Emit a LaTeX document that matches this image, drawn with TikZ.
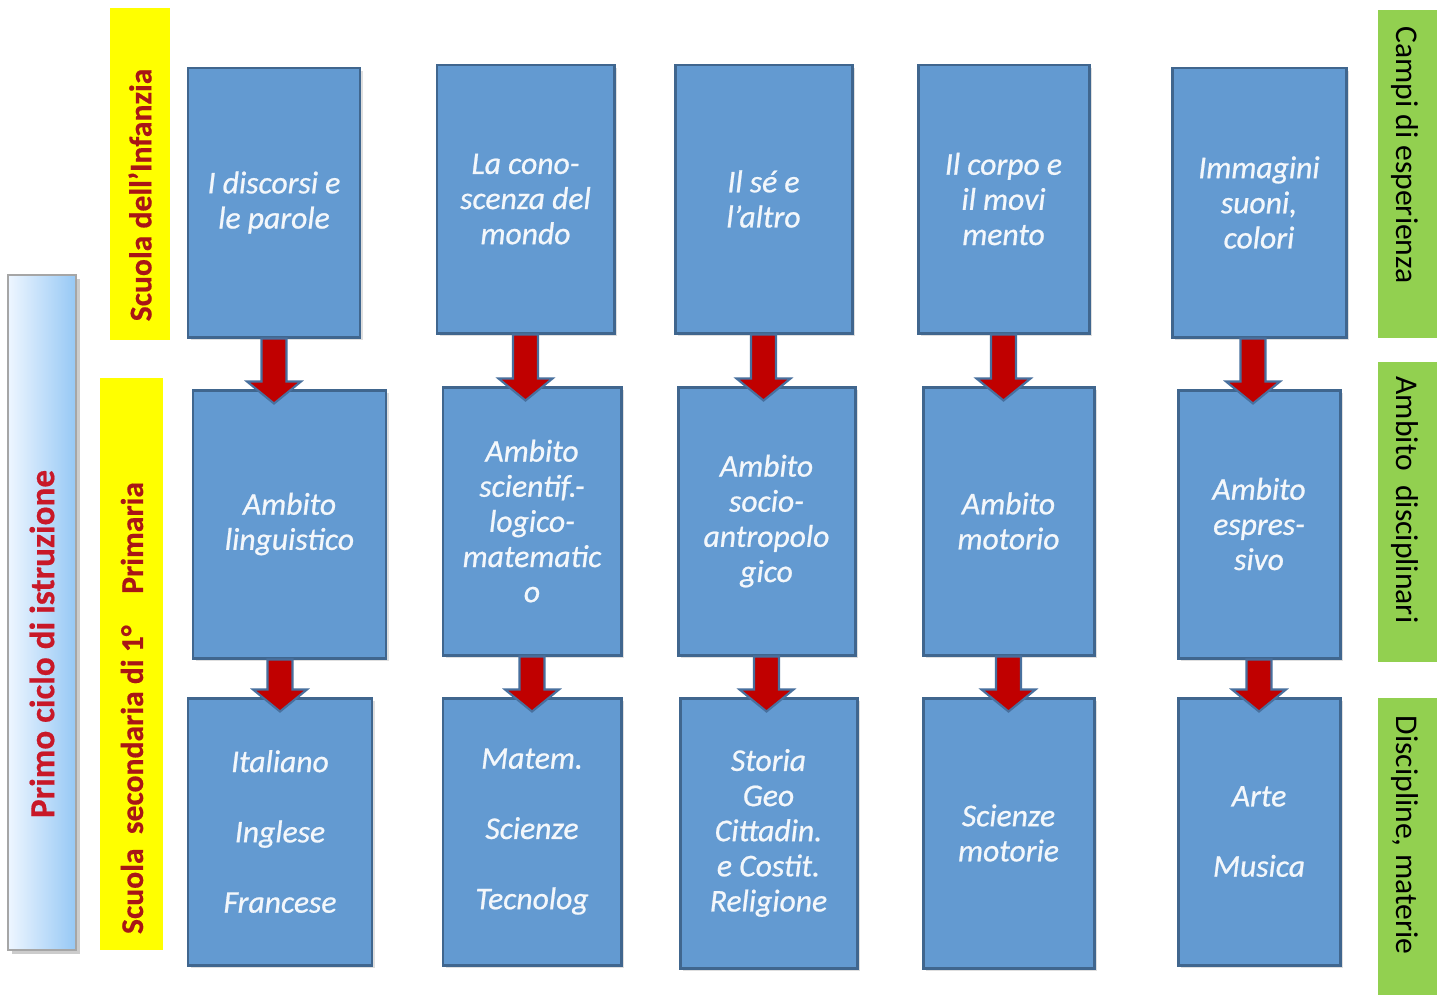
\documentclass[tikz,border=0pt]{standalone}
\usepackage{fontspec}
\setmainfont{Carlito}
\newfontfamily\boxfont[FakeBold=0.7]{Carlito}
\newfontfamily\labelfont[FakeBold=0.5]{Carlito}
\usepackage{xcolor}
\definecolor{boxblue}{RGB}{99,154,209}
\definecolor{boxedge}{RGB}{64,102,142}
\definecolor{arrowred}{RGB}{192,0,0}
\definecolor{arrowedge}{RGB}{72,112,158}
\definecolor{labelyellow}{RGB}{255,255,0}
\definecolor{labelgreen}{RGB}{146,208,80}
\definecolor{darkred}{RGB}{168,22,22}
\definecolor{cyclered}{RGB}{200,24,40}
\definecolor{cyclelight}{RGB}{238,246,255}
\definecolor{cycleblue}{RGB}{150,200,245}
\usepackage{tikz}
\usetikzlibrary{
    calc,
    shadows
}

\begin{document}
\begin{tikzpicture}[
    x=0.02cm, y=-0.02cm,
    every text node part/.style={align=center},
    boxsize/.style 2 args={minimum width=#1*0.02cm, minimum height=#2*0.02cm},
    ambito/.style={draw=boxedge, line width=1.7pt, fill=boxblue, inner sep=0pt,
        drop shadow={shadow xshift=1.5pt, shadow yshift=-1.5pt, opacity=0.25},
        text=white!92!boxblue, font=\boxfont\fontsize{18}{20}\selectfont\itshape},
    schoolbar/.style={fill=labelyellow, inner sep=0pt},
    schooltext/.style={rotate=90, text=darkred, font=\labelfont\fontsize{18}{20}\selectfont\bfseries},
    fieldbar/.style={fill=labelgreen, inner sep=0pt},
    fieldtext/.style={rotate=-90, text=black, font=\fontsize{18}{20}\selectfont},
    cyclebar/.style={draw=gray!70, line width=1pt, left color=cyclelight, right color=cycleblue,
        drop shadow={shadow xshift=2pt, shadow yshift=-2pt, opacity=0.4}},
    flow/.style={fill=arrowred, draw=arrowedge, line width=1.2pt, line join=miter,
        to path={let \p1=(\tikztostart), \p2=(\tikztotarget) in
            (\x1-0.25cm,\y1) -- (\x1-0.25cm,\y2+0.14cm) -- (\x1-0.54cm,\y2+0.14cm)
            -- (\x1,\y2-0.3cm) -- (\x1+0.54cm,\y2+0.14cm) -- (\x1+0.25cm,\y2+0.14cm)
            -- (\x1+0.25cm,\y1) -- cycle}}
]
\fill[white] (0,0) rectangle (1437,1005);
\useasboundingbox (0,0) rectangle (1437,1005);

% ==================== SIDE LABELS ====================
\node[cyclebar, boxsize={68}{675}] (cycle_bar) at (42,612.5) {};
\node[rotate=90, text=cyclered, font=\labelfont\fontsize{20}{22}\selectfont\bfseries] (cycle_txt) at (42,644) {Primo ciclo di istruzione};

\node[schoolbar, boxsize={60}{332}] (infanzia_bar) at (140,174) {};
\node[schooltext] (infanzia_txt) at (140,195) {Scuola dell’Infanzia};

\node[schoolbar, boxsize={63}{572}] (primaria_bar) at (131.5,664) {};
\node[schooltext] (primaria_txt) at (132,708) {Scuola\ \ secondaria di 1°\quad Primaria};

\node[fieldbar, boxsize={67}{328}] (campi_bar) at (1411.5,174) {};
\node[fieldtext] (campi_txt) at (1405,155) {Campi di esperienza};

\node[fieldbar, boxsize={67}{300}] (ambiti_bar) at (1411.5,512) {};
\node[fieldtext] (ambiti_txt) at (1405,500) {Ambito\ \ disciplinari};

\node[fieldbar, boxsize={67}{297}] (discipline_bar) at (1411.5,846.5) {};
\node[fieldtext] (discipline_txt) at (1405,835) {Discipline, materie};

% ==================== CAMPI DI ESPERIENZA ====================
\node[ambito, boxsize={172}{269}] (discorsi) at (274,202.5) {I discorsi e\\le parole};
\node[ambito, boxsize={177}{268}] (conoscenza) at (525.5,199) {La cono-\\scenza del\\mondo};
\node[ambito, boxsize={177}{268}] (se_altro) at (763.5,199) {Il sé e\\l’altro};
\node[ambito, boxsize={171}{268}] (corpo) at (1003.5,199) {Il corpo e\\il movi\\mento};
\node[ambito, boxsize={174}{269}] (immagini) at (1259,202.5) {Immagini\\suoni,\\colori};

% ==================== AMBITI DISCIPLINARI ====================
\node[ambito, boxsize={193}{268}] (linguistico) at (289.5,524) {Ambito\\linguistico};
\node[ambito, boxsize={178}{268}] (scientifico) at (532,521) {Ambito\\scientif.-\\logico-\\matematic\\o};
\node[ambito, boxsize={177}{268}] (antropologico) at (766.5,521) {Ambito\\socio-\\antropolo\\gico};
\node[ambito, boxsize={171}{268}] (motorio) at (1008.5,521) {Ambito\\motorio};
\node[ambito, boxsize={162}{268}] (espressivo) at (1259,524) {Ambito\\espres-\\sivo};

% ==================== DISCIPLINE ====================
\node[ambito, boxsize={184}{267}] (lingue) at (280,831.5) {Italiano\\[20pt]Inglese\\[20pt]Francese};
\node[ambito, boxsize={178}{267}] (matematica) at (532,831.5) {Matem.\\[20pt]Scienze\\[20pt]Tecnolog};
\node[ambito, boxsize={177}{270}] (storia) at (768.5,833) {Storia\\Geo\\Cittadin.\\e Costit.\\Religione};
\node[ambito, boxsize={171}{270}] (scienze_mot) at (1008.5,833) {Scienze\\motorie};
\node[ambito, boxsize={162}{267}] (arte) at (1259,831.5) {Arte\\[20pt]Musica};

% ==================== ARROWS ====================
\draw[flow] (discorsi.south) to (linguistico.north);
\draw[flow] (conoscenza.south) to (scientifico.north);
\draw[flow] (se_altro.south) to (antropologico.north);
\draw[flow] (corpo.south) to (motorio.north);
\draw[flow] ([xshift=-0.12cm]immagini.south) to (espressivo.north);

\draw[flow] (lingue.north |- linguistico.south) to (lingue.north);
\draw[flow] (scientifico.south) to (matematica.north);
\draw[flow] (antropologico.south) to (storia.north);
\draw[flow] (motorio.south) to (scienze_mot.north);
\draw[flow] (espressivo.south) to (arte.north);

\end{tikzpicture}
\end{document}
